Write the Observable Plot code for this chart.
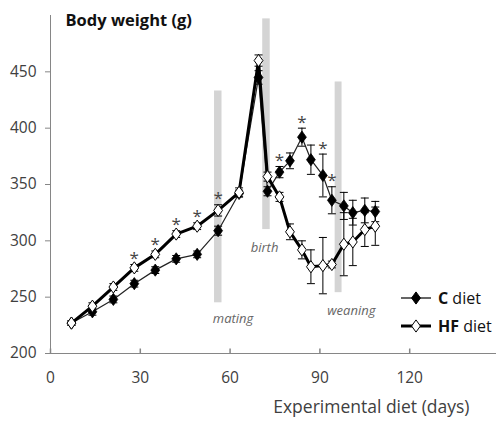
<!DOCTYPE html>
<html><head><meta charset="utf-8">
<script src="https://cdn.jsdelivr.net/npm/d3@7"></script>
<script src="https://cdn.jsdelivr.net/npm/@observablehq/plot@0.6"></script>
<style>
body{margin:0;background:#fff;}
#chart svg{font-family:"Open Sans",sans-serif;background:#fff;}
</style></head><body><div id="chart"></div>
<script>
// ---- data ----
const days     = [7, 14, 21, 28, 35, 42, 49, 56, 63, 69.5, 72.5, 76.5, 80, 84, 87, 91, 94, 98, 101, 105, 108.5];
const cWeight  = [227, 237, 248, 262, 274, 284, 288, 309, 342, 445, 344, 361, 371, 392, 372, 358, 336, 331, 325, 327, 326];
const cErr     = [2, 3, 3, 3, 3, 3, 3, 4, 3, 6, 4, 5, 7, 8, 13, 19, 12, 12, 11, 11, 9];
const hfWeight = [227, 242, 259, 276, 288, 306, 313, 327, 343, 460, 357, 339, 308, 292, 277, 278, 279, 297, 299, 310, 313];
const hfErr    = [2, 3, 3, 3, 3, 3, 3, 5, 4, 5, 4, 4, 7, 8, 15, 25, 3, 28, 21, 15, 17];
const starDays = [28, 35, 42, 49, 56, 76.5, 84, 91, 94];
const events        = ["mating", "birth", "weaning"];
const eventStart    = [54.8, 70.9, 95.1];
const eventEnd      = [57.3, 73.4, 97.4];
const eventLow      = [245, 310, 254];
const eventHigh     = [433, 497, 441];
const eventLabelDay = [61, 71.5, 100.5];
const eventLabelWt  = [231, 294, 238];
const xTicks = [0, 30, 60, 90, 120];
const yTicks = [200, 250, 300, 350, 400, 450];
const seriesNames = ["C", "HF"];
const seriesLabels = ["C diet", "HF diet"];

// ---- tables ----
const cRows  = days.map((d, i) => ({day: d, w: cWeight[i], e: cErr[i]}));
const hfRows = days.map((d, i) => ({day: d, w: hfWeight[i], e: hfErr[i]}));
const allRows = cRows.concat(hfRows);
const eventRows = events.map((n, i) => ({name: n, x1: eventStart[i], x2: eventEnd[i], y1: eventLow[i], y2: eventHigh[i], lx: eventLabelDay[i], ly: eventLabelWt[i]}));
const starTop = d => {
  const i = days.indexOf(d);
  return Math.max(cWeight[i] + cErr[i], hfWeight[i] + hfErr[i]);
};

// ---- symbols ----
const diamond = {draw(ctx, size) {
  const r = Math.sqrt(size / Math.PI), h = r * 1.45, w = r * 1.05;
  ctx.moveTo(0, -h); ctx.lineTo(w, 0); ctx.lineTo(0, h); ctx.lineTo(-w, 0); ctx.closePath();
}};
const cap = {draw(ctx) { ctx.moveTo(-4, 0); ctx.lineTo(4, 0); }};
const upTick = {draw(ctx) { ctx.moveTo(0, 0); ctx.lineTo(0, -5); }};

const axisColor = "#868686";
const textColor = "#404040";

const plot = Plot.plot({
  width: 498, height: 425,
  marginLeft: 50, marginRight: 2, marginTop: 15, marginBottom: 72,
  x: {domain: [0, 149], axis: null},
  y: {domain: [200, 500], axis: null},
  style: {fontFamily: "'Open Sans', sans-serif"},
  marks: [
    Plot.rect(eventRows, {x1: "x1", x2: "x2", y1: "y1", y2: "y2", fill: "#d4d4d4"}),
    Plot.text(eventRows, {x: "lx", y: "ly", text: "name", fontStyle: "italic", fontSize: 13, fill: "#666"}),
    // axes
    Plot.ruleX([0], {y1: 200, y2: 500, stroke: axisColor}),
    Plot.ruleY([200], {stroke: axisColor}),
    Plot.axisY({ticks: yTicks, tickSize: 5, tickPadding: 9, stroke: axisColor, fontSize: 15.5, fill: textColor, label: null}),
    Plot.dot(xTicks, {x: d => d, y: 200, symbol: upTick, stroke: axisColor, r: 3}),
    Plot.axisX({ticks: xTicks, tickSize: 0, tickPadding: 18, fontSize: 15.5, fill: textColor, label: null}),
    Plot.text(["Experimental diet (days)"], {frameAnchor: "bottom-right", dx: -27, dy: 59, textAnchor: "end", fontSize: 17.5, fill: textColor}),
    Plot.text(["Body weight (g)"], {frameAnchor: "top-left", dx: 15, dy: -1, textAnchor: "start", fontSize: 16.5, fontWeight: "bold", fill: "#111"}),
    // error bars
    Plot.ruleX(allRows, {x: "day", y1: d => d.w - d.e, y2: d => d.w + d.e, stroke: "#000", strokeWidth: 1}),
    Plot.dot(allRows, {x: "day", y: d => d.w + d.e, symbol: cap, stroke: "#000", strokeWidth: 1}),
    Plot.dot(allRows, {x: "day", y: d => d.w - d.e, symbol: cap, stroke: "#000", strokeWidth: 1}),
    // lines
    Plot.line(cRows, {x: "day", y: "w", stroke: "#222", strokeWidth: 1.2}),
    Plot.dot(cRows, {x: "day", y: "w", symbol: diamond, r: 4.2, fill: "#000", stroke: "#000", strokeWidth: 0.8}),
    Plot.line(hfRows, {x: "day", y: "w", stroke: "#000", strokeWidth: 3}),
    Plot.dot(hfRows, {x: "day", y: "w", symbol: diamond, r: 4.2, fill: "#fff", stroke: "#000", strokeWidth: 1}),
    // significance stars
    Plot.text(starDays, {x: d => d, y: starTop, text: () => "*", dy: -6, fontSize: 17, fill: "#444"})
  ]
});
document.getElementById("chart").appendChild(plot);

// ---- legend ----
const svg = d3.select(plot);
const leg = svg.append("g");
const legY = [298, 326];
seriesNames.forEach((s, i) => {
  const g = leg.append("g").attr("transform", `translate(401,${legY[i]})`);
  g.append("line").attr("x1", 0).attr("x2", 30).attr("stroke", "#000").attr("stroke-width", i === 0 ? 1.2 : 3);
  g.append("path").attr("transform", "translate(15,0)")
    .attr("d", d3.symbol(diamond, Math.PI * 4.2 * 4.2)())
    .attr("fill", i === 0 ? "#000" : "#fff").attr("stroke", "#000").attr("stroke-width", 1);
  const t = g.append("text").attr("x", 37).attr("dy", "0.35em").attr("text-anchor", "start")
    .attr("font-size", 16).attr("fill", "#111");
  const parts = seriesLabels[i].split(" ");
  t.append("tspan").attr("font-weight", "bold").text(parts[0]);
  t.append("tspan").text(" " + parts.slice(1).join(" "));
});
</script></body></html>
